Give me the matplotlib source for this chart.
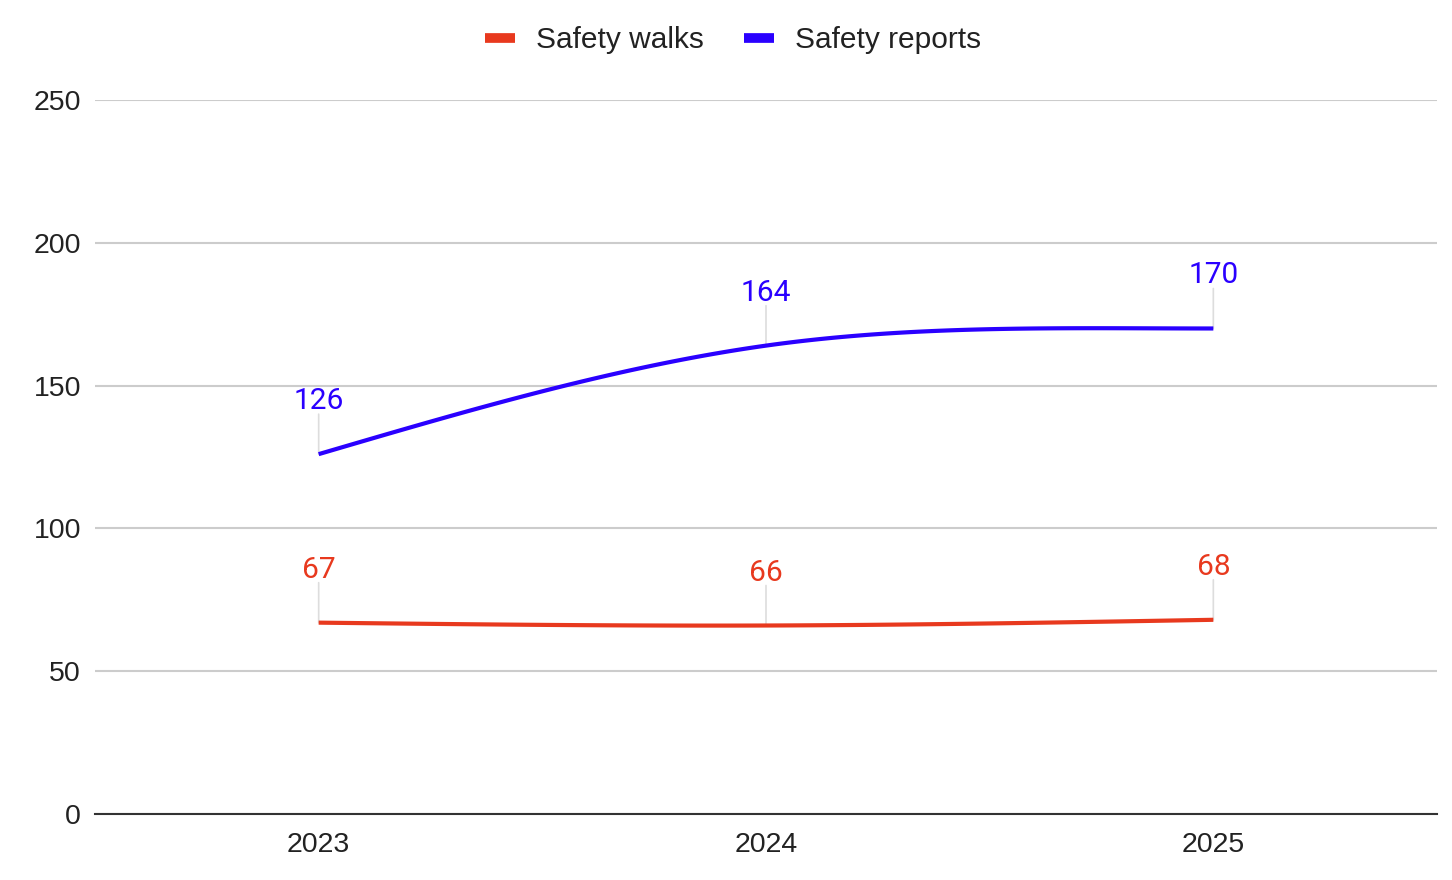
import numpy as np
import matplotlib
matplotlib.use("Agg")
import matplotlib.pyplot as plt
from matplotlib.lines import Line2D

years = ["2023", "2024", "2025"]
safety_walks = [67, 66, 68]
safety_reports = [126, 164, 170]
series_names = ["Safety walks", "Safety reports"]
y_ticks = [0, 50, 100, 150, 200, 250]

RED = "#e8391e"
BLUE = "#2a00ff"


def smooth(xs, ys, n=60):
    xs = np.asarray(xs, float)
    ys = np.asarray(ys, float)
    k = len(xs)
    h = np.diff(xs)
    d = np.diff(ys) / h
    m = np.zeros(k)
    for i in range(1, k - 1):
        m[i] = (ys[i + 1] - ys[i - 1]) / (xs[i + 1] - xs[i - 1])
    m[0] = (3 * d[0] - m[1]) / 2
    m[-1] = (3 * d[-1] - m[-2]) / 2
    if np.sign(m[0]) != np.sign(d[0]):
        m[0] = 0
    if np.sign(m[-1]) != np.sign(d[-1]):
        m[-1] = 0
    X, Y = [], []
    for i in range(k - 1):
        t = np.linspace(0, 1, n)
        h00 = 2 * t**3 - 3 * t**2 + 1
        h10 = t**3 - 2 * t**2 + t
        h01 = -2 * t**3 + 3 * t**2
        h11 = t**3 - t**2
        X.append(xs[i] + t * h[i])
        Y.append(h00 * ys[i] + h10 * h[i] * m[i] + h01 * ys[i + 1] + h11 * h[i] * m[i + 1])
    return np.concatenate(X), np.concatenate(Y)


fig = plt.figure(figsize=(14.52, 8.8), dpi=100)
ax = fig.add_axes([95 / 1452, 66 / 880, 1342 / 1452, 714 / 880])

xpos = np.arange(len(years)) + 0.5

for vals, color in [(safety_walks, RED), (safety_reports, BLUE)]:
    sx, sy = smooth(xpos, vals)
    ax.plot(sx, sy, color=color, lw=3.0, solid_capstyle="butt", zorder=3)
    for x, v in zip(xpos, vals):
        ax.annotate("", xy=(x, v), xytext=(0, 40), textcoords="offset pixels",
                    arrowprops=dict(arrowstyle="-", color="#dddddd", lw=1.2,
                                    shrinkA=0, shrinkB=0), zorder=2)
        ax.annotate(str(v), xy=(x, v), xytext=(0, 45), textcoords="offset pixels",
                    ha="center", va="baseline", color=color, fontsize=21.5,
                    fontfamily="Roboto", zorder=4)

ax.set_xlim(0, len(years))
ax.set_ylim(0, 250)
ax.set_yticks(y_ticks)
ax.set_yticklabels([str(t) for t in y_ticks], fontsize=20.5, fontfamily="Liberation Sans", color="#222222")
ax.set_xticks(xpos)
ax.set_xticklabels(years, fontsize=20.5, fontfamily="Liberation Sans", color="#222222")
ax.tick_params(axis="y", length=0, pad=10)
ax.tick_params(axis="x", length=0, pad=13)
ax.grid(axis="y", color="#cccccc", lw=1.5, zorder=0)
ax.set_axisbelow(True)
for s in ["top", "right", "left"]:
    ax.spines[s].set_visible(False)
ax.spines["bottom"].set_color("#333333")
ax.spines["bottom"].set_linewidth(1.5)
ax.spines["bottom"].set_zorder(5)

handles = [Line2D([], [], color=RED, lw=7, solid_capstyle="butt"),
           Line2D([], [], color=BLUE, lw=7, solid_capstyle="butt")]
fig.legend(handles, series_names, loc="center", bbox_to_anchor=(0.505, 1 - 40 / 880),
           ncol=2, frameon=False, prop={"family": "Liberation Sans", "size": 21.5},
           handlelength=1.0, handletextpad=0.7, columnspacing=1.35, labelcolor="#222222")

fig.savefig("out.png", dpi=100, facecolor="white")
